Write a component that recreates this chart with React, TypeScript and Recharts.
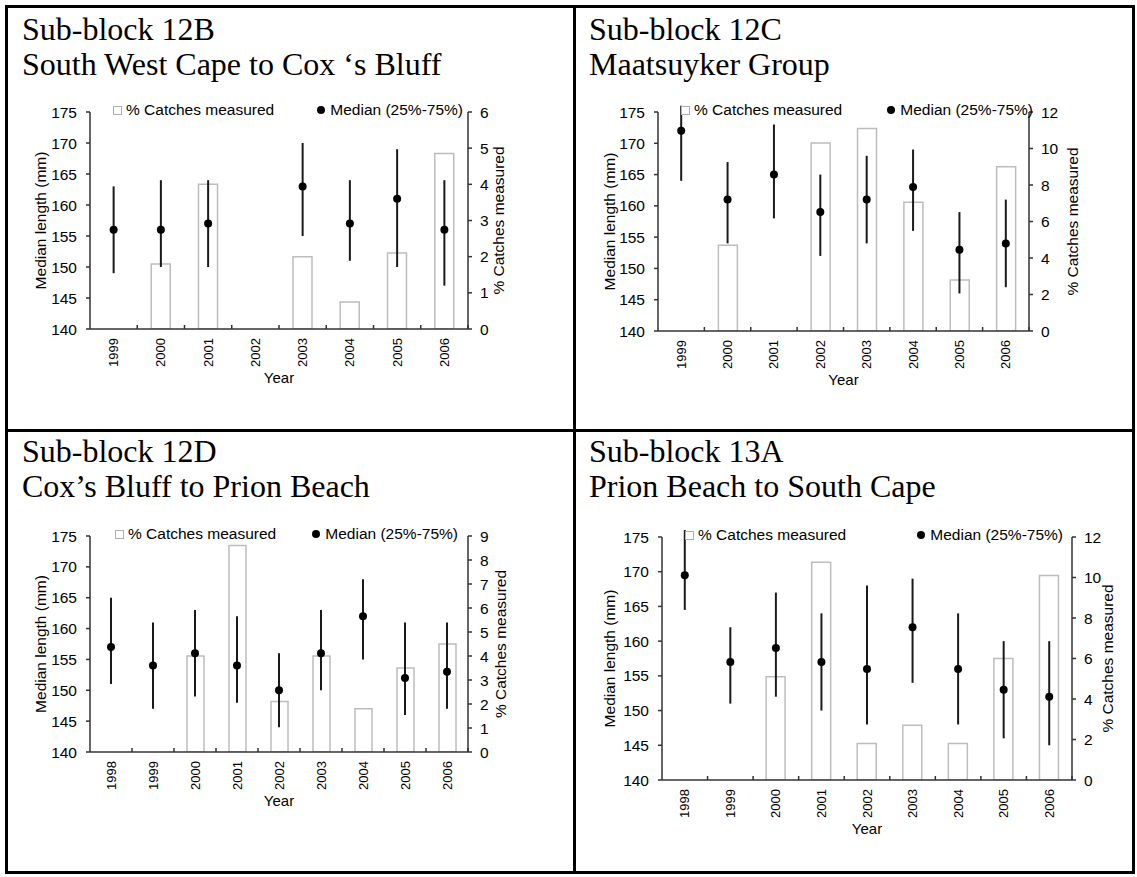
import React from 'react';
import { ComposedChart, Bar, Line, XAxis, YAxis, ErrorBar, Legend } from 'recharts';

const FONT = 'Arial, "Liberation Sans", sans-serif';
const SERIF = '"Times New Roman", "Liberation Serif", serif';

const lengthTicks = [140, 145, 150, 155, 160, 165, 170, 175];

// Sub-block 12B
const years12B = ['1999', '2000', '2001', '2002', '2003', '2004', '2005', '2006'];
const pct12B = [null, 1.8, 4.0, null, 2.0, 0.75, 2.1, 4.85];
const median12B = [156, 156, 157, null, 163, 157, 161, 156];
const q25_12B = [149, 150, 150, null, 155, 151, 150, 147];
const q75_12B = [163, 164, 164, null, 170, 164, 169, 164];
const pctTicks12B = [0, 1, 2, 3, 4, 5, 6];

// Sub-block 12C
const years12C = ['1999', '2000', '2001', '2002', '2003', '2004', '2005', '2006'];
const pct12C = [null, 4.7, null, 10.3, 11.1, 7.05, 2.8, 9.0];
const median12C = [172, 161, 165, 159, 161, 163, 153, 154];
const q25_12C = [164, 154, 158, 152, 154, 156, 146, 147];
const q75_12C = [176, 167, 173, 165, 168, 169, 159, 161];
const pctTicks12C = [0, 2, 4, 6, 8, 10, 12];

// Sub-block 12D
const years12D = ['1998', '1999', '2000', '2001', '2002', '2003', '2004', '2005', '2006'];
const pct12D = [null, null, 4.0, 8.6, 2.1, 4.0, 1.8, 3.5, 4.5];
const median12D = [157, 154, 156, 154, 150, 156, 162, 152, 153];
const q25_12D = [151, 147, 149, 148, 144, 150, 155, 146, 147];
const q75_12D = [165, 161, 163, 162, 156, 163, 168, 161, 161];
const pctTicks12D = [0, 1, 2, 3, 4, 5, 6, 7, 8, 9];

// Sub-block 13A
const years13A = ['1998', '1999', '2000', '2001', '2002', '2003', '2004', '2005', '2006'];
const pct13A = [null, null, 5.1, 10.75, 1.8, 2.7, 1.8, 6.0, 10.1];
const median13A = [169.5, 157, 159, 157, 156, 162, 156, 153, 152];
const q25_13A = [164.5, 151, 152, 150, 148, 154, 148, 146, 145];
const q75_13A = [176, 162, 167, 164, 168, 169, 164, 160, 160];
const pctTicks13A = [0, 2, 4, 6, 8, 10, 12];

function buildRows(years: string[], pct: (number | null)[], median: (number | null)[], q25: (number | null)[], q75: (number | null)[]) {
  return years.map((year, i) => {
    const m = median[i];
    return {
      year,
      pct: pct[i],
      median: m,
      err: m == null ? undefined : [m - (q25[i] as number), (q75[i] as number) - m],
    };
  });
}

function YearTick({ x, y, payload, half }: any) {
  return (
    <g>
      <line x1={x + half} y1={y} x2={x + half} y2={y - 4} stroke="#333" strokeWidth={1.5} />
      <text
        x={x}
        y={y + 9}
        transform={`rotate(-90, ${x}, ${y + 9})`}
        textAnchor="end"
        dy="0.35em"
        fontSize={13}
        fill="#000"
      >
        {payload.value}
      </text>
    </g>
  );
}

function VTitle({ px, py, text }: any) {
  return (
    <text
      x={px}
      y={py}
      transform={`rotate(-90, ${px}, ${py})`}
      textAnchor="middle"
      dominantBaseline="central"
      fontSize={15.5}
      fill="#000"
    >
      {text}
    </text>
  );
}

function LegendRow() {
  return (
    <div
      style={{
        display: 'flex',
        justifyContent: 'space-between',
        alignItems: 'center',
        height: 20,
        fontSize: 15.5,
        color: '#000',
        fontFamily: FONT,
        whiteSpace: 'nowrap',
      }}
    >
      <span style={{ display: 'flex', alignItems: 'center' }}>
        <span style={{ width: 9, height: 9, border: '1px solid #b0b0b0', boxSizing: 'border-box', marginRight: 4, background: '#fff' }} />
        % Catches measured
      </span>
      <span style={{ display: 'flex', alignItems: 'center' }}>
        <span style={{ width: 8, height: 8, borderRadius: '50%', background: '#000', marginRight: 5 }} />
        Median (25%-75%)
      </span>
    </div>
  );
}

function Panel({ title1, title2, tx, ty, rows, pctTicks, box, plot, barSize, legend, leftOff, rightOff }: any) {
  const yW = 50;
  const xH = 54;
  const margin = {
    left: plot.l - box.x - yW,
    right: box.x + box.w - plot.r - yW,
    top: plot.t - box.y,
    bottom: box.y + box.h - plot.b - xH,
  };
  const half = (plot.r - plot.l) / rows.length / 2;
  const midY = (plot.t + plot.b) / 2 - box.y;
  return (
    <>
      <div
        style={{
          position: 'absolute',
          left: tx,
          top: ty,
          fontFamily: SERIF,
          fontSize: 32,
          lineHeight: '35px',
          whiteSpace: 'nowrap',
          color: '#000',
        }}
      >
        <div>{title1}</div>
        <div>{title2}</div>
      </div>
      <div style={{ position: 'absolute', left: box.x, top: box.y, fontFamily: FONT }}>
        <ComposedChart width={box.w} height={box.h} data={rows} margin={margin}>
          <XAxis
            dataKey="year"
            interval={0}
            tickLine={false}
            tickSize={0}
            tickMargin={0}
            height={xH}
            axisLine={{ stroke: '#333', strokeWidth: 1.5 }}
            tick={<YearTick half={half} />}
            label={{ value: 'Year', position: 'insideBottom', offset: 0, fontSize: 15, fill: '#000' }}
          />
          <YAxis
            yAxisId="left"
            domain={[140, 175]}
            ticks={lengthTicks}
            allowDataOverflow
            width={yW}
            tickSize={4}
            tickMargin={9}
            axisLine={{ stroke: '#333', strokeWidth: 1.5 }}
            tickLine={{ stroke: '#333', strokeWidth: 1.5 }}
            tick={{ fontSize: 15.5, fill: '#000' }}
            label={<VTitle px={plot.l + leftOff - box.x} py={midY} text="Median length (mm)" />}
          />
          <YAxis
            yAxisId="right"
            orientation="right"
            domain={[0, pctTicks[pctTicks.length - 1]]}
            ticks={pctTicks}
            allowDataOverflow
            width={yW}
            tickSize={4}
            tickMargin={8}
            axisLine={{ stroke: '#333', strokeWidth: 1.5 }}
            tickLine={{ stroke: '#333', strokeWidth: 1.5 }}
            tick={{ fontSize: 15.5, fill: '#000' }}
            label={<VTitle px={plot.r + rightOff - box.x} py={midY} text="% Catches measured" />}
          />
          <Legend
            verticalAlign="middle"
            align="center"
            layout="horizontal"
            wrapperStyle={{ top: plot.t - 12 - box.y, left: legend.l - box.x, width: legend.r - legend.l, height: 20 }}
            content={<LegendRow />}
          />
          <Bar
            yAxisId="right"
            dataKey="pct"
            fill="#fff"
            stroke="#bdbdbd"
            strokeWidth={1.5}
            barSize={barSize}
            isAnimationActive={false}
          />
          <Line
            yAxisId="left"
            dataKey="median"
            stroke="none"
            dot={{ r: 4, fill: '#000', stroke: 'none' }}
            activeDot={false}
            isAnimationActive={false}
          >
            <ErrorBar dataKey="err" width={0} stroke="#1a1a1a" strokeWidth={2} direction="y" />
          </Line>
        </ComposedChart>
      </div>
    </>
  );
}

export default function App() {
  return (
    <div style={{ position: 'absolute', left: 0, top: 0, width: 1137, height: 877, background: '#fff' }}>
      <div style={{ position: 'absolute', left: 5, top: 5, width: 1130, height: 869, border: '3px solid #000', boxSizing: 'border-box' }} />
      <div style={{ position: 'absolute', left: 573, top: 5, width: 3, height: 869, background: '#000' }} />
      <div style={{ position: 'absolute', left: 5, top: 429, width: 1130, height: 3, background: '#000' }} />

      <Panel
        title1="Sub-block 12B"
        title2="South West Cape to Cox ‘s Bluff"
        tx={22}
        ty={12}
        rows={buildRows(years12B, pct12B, median12B, q25_12B, q75_12B)}
        pctTicks={pctTicks12B}
        box={{ x: 10, y: 85, w: 555, h: 310 }}
        plot={{ l: 90, r: 468, t: 112, b: 329 }}
        barSize={19}
        legend={{ l: 113, r: 463 }}
        leftOff={-50}
        rightOff={30}
      />
      <Panel
        title1="Sub-block 12C"
        title2="Maatsuyker Group"
        tx={589}
        ty={12}
        rows={buildRows(years12C, pct12C, median12C, q25_12C, q75_12C)}
        pctTicks={pctTicks12C}
        box={{ x: 580, y: 85, w: 545, h: 310 }}
        plot={{ l: 658, r: 1029, t: 112, b: 331 }}
        barSize={19}
        legend={{ l: 681, r: 1033 }}
        leftOff={-48.5}
        rightOff={43}
      />
      <Panel
        title1="Sub-block 12D"
        title2="Cox’s Bluff to Prion Beach"
        tx={22}
        ty={434}
        rows={buildRows(years12D, pct12D, median12D, q25_12D, q75_12D)}
        pctTicks={pctTicks12D}
        box={{ x: 10, y: 505, w: 555, h: 320 }}
        plot={{ l: 90, r: 468, t: 536, b: 752 }}
        barSize={17}
        legend={{ l: 115, r: 458 }}
        leftOff={-50}
        rightOff={32}
      />
      <Panel
        title1="Sub-block 13A"
        title2="Prion Beach to South Cape"
        tx={589}
        ty={434}
        rows={buildRows(years13A, pct13A, median13A, q25_13A, q75_13A)}
        pctTicks={pctTicks13A}
        box={{ x: 580, y: 505, w: 550, h: 360 }}
        plot={{ l: 662, r: 1072, t: 537, b: 780 }}
        barSize={19}
        legend={{ l: 685, r: 1063 }}
        leftOff={-52.5}
        rightOff={35}
      />
    </div>
  );
}
